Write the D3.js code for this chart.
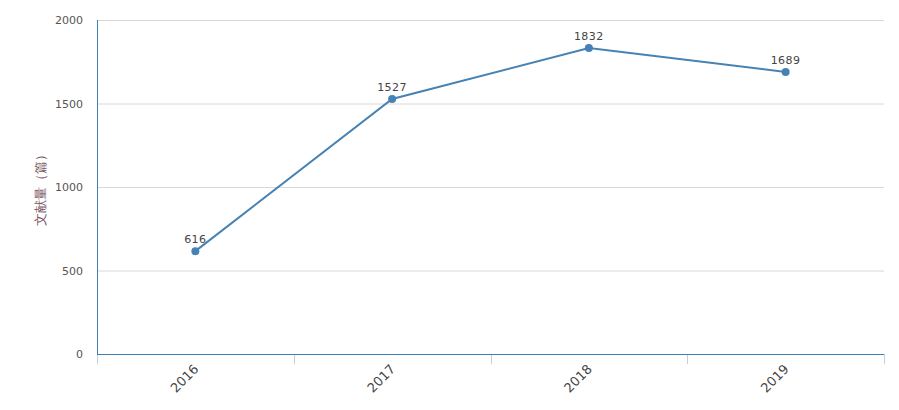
<!DOCTYPE html>
<html><head><meta charset="utf-8">
<script src="https://cdn.jsdelivr.net/npm/d3@7"></script>
<style>body{margin:0;background:#fff;} text{font-family:"DejaVu Sans",Verdana,sans-serif;}</style>
</head><body>
<svg id="c" width="899" height="410"></svg>
<script>
const categories = ["2016","2017","2018","2019"];
const values = [616,1527,1832,1689];
const yTicks = [0,500,1000,1500,2000];
const yTitle = "文献量（篇）";

const svg = d3.select("#c");
const m = {l:97, r:884, t:20, b:354};
const x = d3.scaleBand().domain(categories).range([m.l, m.r]);
const y = d3.scaleLinear().domain([0,2000]).range([m.b, m.t]);

// grid
svg.append("g").selectAll("line").data(yTicks.filter(d=>d>0)).join("line")
  .attr("x1", m.l).attr("x2", m.r).attr("y1", d=>y(d)+0.5).attr("y2", d=>y(d)+0.5)
  .attr("stroke", "#d8d8d8").attr("stroke-width",1);

// y labels
svg.append("g").selectAll("text").data(yTicks).join("text")
  .attr("x", 83).attr("y", d=>y(d)+4).attr("text-anchor","end")
  .attr("font-size", 11).attr("fill","#555").text(d=>d);

// y axis line
svg.append("line").attr("x1", m.l+0.5).attr("x2", m.l+0.5).attr("y1", m.t).attr("y2", m.b)
  .attr("stroke","#3a80b5").attr("stroke-width",1);

// x axis ticks
const edges = categories.map(c=>x(c)).concat([m.r]);
svg.append("g").selectAll("line").data(edges).join("line")
  .attr("x1", d=>Math.round(d)+0.5).attr("x2", d=>Math.round(d)+0.5).attr("y1", m.b).attr("y2", m.b+10)
  .attr("stroke","#c0cfe0").attr("stroke-width",1);
svg.append("line").attr("x1", m.l).attr("x2", m.r).attr("y1", m.b+0.5).attr("y2", m.b+0.5)
  .attr("stroke","#3a80b5").attr("stroke-width",1);

// x labels
svg.append("g").selectAll("text").data(categories).join("text")
  .attr("transform", d=>`translate(${x(d)+x.bandwidth()/2+4},${m.b+16}) rotate(-45)`)
  .attr("text-anchor","end").attr("font-size", 13).attr("fill","#444").text(d=>d);

// y title
svg.append("text").attr("transform", `translate(45,${(m.t+m.b)/2}) rotate(-90)`)
  .attr("text-anchor","middle").attr("font-size",13).attr("fill","#7a5560")
  .attr("font-family","Noto Sans CJK SC").text(yTitle);

// line
const cx = d=>x(d)+x.bandwidth()/2;
const line = d3.line().x((d,i)=>cx(categories[i])).y(d=>y(d));
svg.append("path").datum(values).attr("d", line).attr("fill","none")
  .attr("stroke","#4682b4").attr("stroke-width",2);
svg.append("g").selectAll("circle").data(values).join("circle")
  .attr("cx",(d,i)=>cx(categories[i])).attr("cy", d=>y(d)).attr("r",4).attr("fill","#4682b4");
svg.append("g").selectAll("text").data(values).join("text")
  .attr("x",(d,i)=>cx(categories[i])).attr("y", d=>y(d)-8).attr("text-anchor","middle")
  .attr("font-size",11).attr("fill","#444").attr("letter-spacing","0.5").text(d=>d);
</script>
</body></html>
